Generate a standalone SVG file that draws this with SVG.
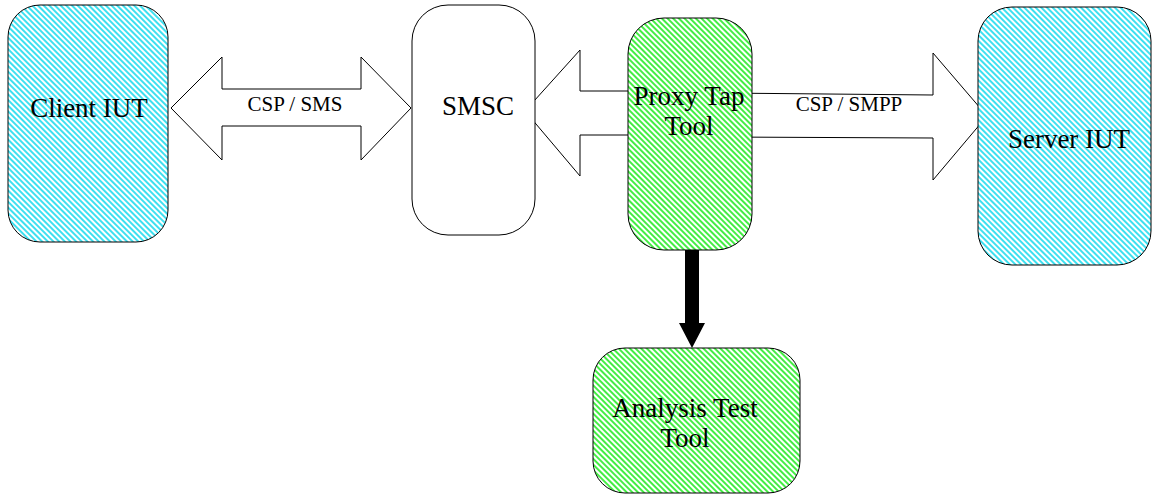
<svg xmlns="http://www.w3.org/2000/svg" width="1152" height="496" viewBox="0 0 1152 496">
<defs>
<pattern id="hatchCyan" patternUnits="userSpaceOnUse" width="4" height="4" patternTransform="rotate(45)">
<rect width="4" height="4" fill="#ffffff"/>
<rect width="4" height="2" fill="#3ee0f0"/>
</pattern>
<pattern id="hatchGreen" patternUnits="userSpaceOnUse" width="4" height="4" patternTransform="rotate(45)">
<rect width="4" height="4" fill="#ffffff"/>
<rect width="4" height="2" fill="#44ee44"/>
</pattern>
</defs>
<style>
.box{stroke:#000;stroke-width:1}
.cyan{fill:url(#hatchCyan)}
.green{fill:url(#hatchGreen)}
.plain{fill:#fff}
.arrow{fill:#fff;stroke:#000;stroke-width:1;stroke-linejoin:miter}
.lbl{font-family:"Liberation Serif","Times New Roman",serif;font-size:27px;fill:#000;text-anchor:middle}
.clbl{font-family:"Liberation Serif","Times New Roman",serif;font-size:21px;fill:#000;text-anchor:middle}
</style>
<rect width="1152" height="496" fill="#fff"/>
<g id="connectors">
<polygon class="arrow" points="171,108 222,57 222,89 361,89 361,57 411,108 361,160 361,126 222,126 222,160"/>
<polygon class="arrow" points="525,111 580,50 580,91 660,91 660,135 580,135 580,176"/>
<polygon class="arrow" points="720,93 933,95 933,53 987,116 933,180 933,138 720,137"/>
<polygon fill="#000" points="685,245 699,245 699,323 705,323 692,348 679,323 685,323"/>
<text class="clbl" x="295" y="111">CSP / SMS</text>
<text class="clbl" x="849" y="111">CSP / SMPP</text>
</g>
<g id="client-iut">
<rect class="box cyan" x="8" y="5" width="160" height="237" rx="32" ry="32"/>
<text class="lbl" x="89" y="117">Client IUT</text>
</g>
<g id="smsc">
<rect class="box plain" x="412" y="5" width="123" height="230" rx="36" ry="36"/>
<text class="lbl" x="478" y="115">SMSC</text>
</g>
<g id="proxy-tap-tool">
<rect class="box green" x="628" y="18" width="124" height="232" rx="36" ry="36"/>
<text class="lbl" x="689" y="105">Proxy Tap</text>
<text class="lbl" x="689" y="135">Tool</text>
</g>
<g id="server-iut">
<rect class="box cyan" x="978" y="7" width="173" height="258" rx="34" ry="34"/>
<text class="lbl" x="1069" y="148">Server IUT</text>
</g>
<g id="analysis-test-tool">
<rect class="box green" x="593" y="348" width="207" height="145" rx="32" ry="32"/>
<text class="lbl" x="685" y="417">Analysis Test</text>
<text class="lbl" x="685" y="447">Tool</text>
</g>
</svg>
